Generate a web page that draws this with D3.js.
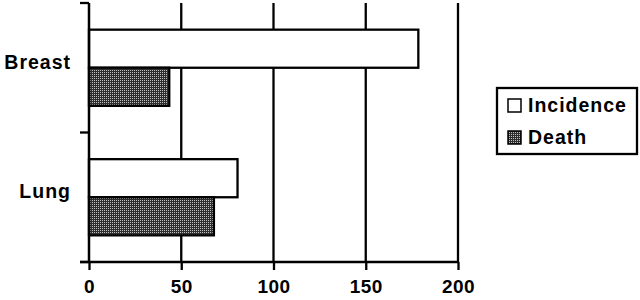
<!DOCTYPE html>
<html>
<head>
<meta charset="utf-8">
<script src="https://cdn.jsdelivr.net/npm/d3@7"></script>
<style>
  body { margin: 0; background: #fff; }
  text { font-family: "Liberation Sans", Arial, sans-serif; font-weight: bold; }
</style>
</head>
<body>
<script>
// categories and series values
var categories = ["Breast", "Lung"];
var seriesNames = ["Incidence", "Death"];
var incidence = [178.5, 80.5];
var death = [43.5, 67.7];
var xTicks = [0, 50, 100, 150, 200];

var width = 640, height = 300;
var margin = {top: 3, left: 89, right: 182, bottom: 38};

const svg = d3.select("body")
    .append("svg")
    .attr("width", width)
    .attr("height", height);

// dotted fill used for the Death bars
var pat = svg.append("defs").append("pattern")
    .attr("id", "dots")
    .attr("width", 2)
    .attr("height", 2)
    .attr("patternUnits", "userSpaceOnUse");
pat.append("rect").attr("width", 2).attr("height", 2).attr("fill", "#2e2e2e");
pat.append("rect").attr("width", 1).attr("height", 1).attr("fill", "#c0c0c0");

var fills = {"Incidence": "#fff", "Death": "url(#dots)"};

var xscale = d3.scaleLinear()
    .domain([0, 200])
    .range([margin.left, width - margin.right]);

var yscale = d3.scaleBand()
    .domain(categories)
    .range([margin.top, height - margin.bottom]);

var sub = d3.scaleBand()
    .domain(seriesNames)
    .range([0, yscale.bandwidth()])
    .paddingOuter(0.7);

var data = [];
categories.forEach((c, i) => {
    data.push({cat: c, series: "Incidence", value: incidence[i]});
    data.push({cat: c, series: "Death", value: death[i]});
});

var y0 = margin.top, y1 = height - margin.bottom;

// vertical gridlines
svg.append("g")
    .selectAll("line")
    .data(xTicks.slice(1))
    .join("line")
    .attr("x1", d => xscale(d))
    .attr("x2", d => xscale(d))
    .attr("y1", y0)
    .attr("y2", y1)
    .attr("stroke", "#000")
    .attr("stroke-width", 2.3);

// bars
svg.append("g")
    .selectAll("rect")
    .data(data)
    .join("rect")
    .attr("x", xscale(0))
    .attr("y", d => yscale(d.cat) + sub(d.series))
    .attr("width", d => xscale(d.value) - xscale(0))
    .attr("height", sub.bandwidth())
    .attr("fill", d => fills[d.series])
    .attr("stroke", "#000")
    .attr("stroke-width", 2.3);

// x-axis
var xAxis = svg.append("g")
    .attr("transform", `translate(0,${y1})`)
    .call(d3.axisBottom(xscale).tickValues(xTicks).tickSize(8).tickPadding(10).tickSizeOuter(0));
xAxis.select(".domain").remove();
xAxis.append("line")
    .attr("x1", margin.left - 9)
    .attr("x2", xscale(200))
    .attr("stroke", "#000")
    .attr("stroke-width", 2.5);
xAxis.selectAll(".tick line").attr("stroke-width", 2.3);
xAxis.selectAll(".tick text")
    .attr("font-size", 19)
    .attr("letter-spacing", 0.5)
    .attr("font-family", "Liberation Sans, Arial, sans-serif")
    .attr("font-weight", "bold")
    .attr("fill", "#000");

// y-axis line and category boundary ticks
svg.append("line")
    .attr("x1", margin.left).attr("x2", margin.left)
    .attr("y1", y0).attr("y2", y1)
    .attr("stroke", "#000")
    .attr("stroke-width", 2.5);
var bounds = categories.map(c => yscale(c)).concat([y1]);
svg.append("g")
    .selectAll("line")
    .data(bounds)
    .join("line")
    .attr("x1", margin.left - 9)
    .attr("x2", margin.left)
    .attr("y1", d => d)
    .attr("y2", d => d)
    .attr("stroke", "#000")
    .attr("stroke-width", 2.3);

// category labels
svg.append("g")
    .selectAll("text")
    .data(categories)
    .join("text")
    .attr("x", 71)
    .attr("y", d => yscale(d) + yscale.bandwidth() / 2 + 1)
    .attr("text-anchor", "end")
    .attr("font-size", 19.5)
    .attr("letter-spacing", 1)
    .text(d => d);

// legend
var legend = svg.append("g").attr("transform", "translate(497,88)");
legend.append("rect")
    .attr("width", 140)
    .attr("height", 66)
    .attr("fill", "#fff")
    .attr("stroke", "#000")
    .attr("stroke-width", 2.3);
seriesNames.forEach((s, i) => {
    legend.append("rect")
        .attr("x", 11)
        .attr("y", 11 + 32 * i)
        .attr("width", 13)
        .attr("height", 13)
        .attr("fill", fills[s])
        .attr("stroke", "#000")
        .attr("stroke-width", 1.5);
    legend.append("text")
        .attr("x", 31)
        .attr("y", 24 + 32 * i)
        .attr("font-size", 19.5)
        .attr("letter-spacing", 1)
        .text(s);
});
</script>
</body>
</html>
